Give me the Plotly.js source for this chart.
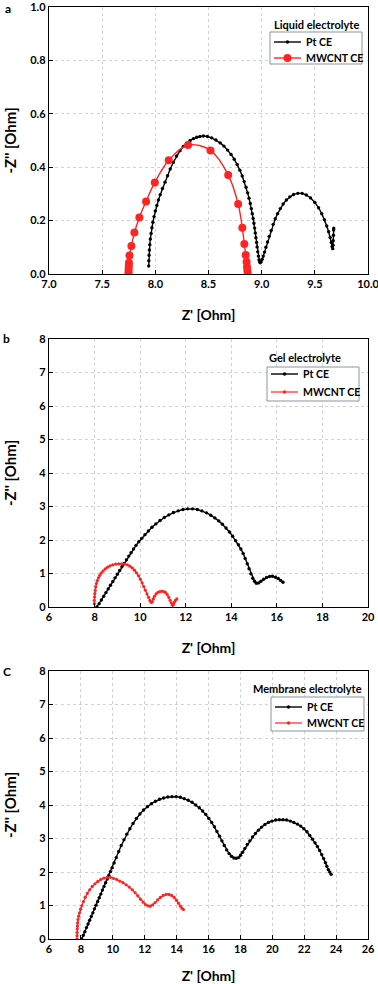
<!DOCTYPE html>
<html>
<head>
<meta charset="utf-8">
<script src="https://cdn.plot.ly/plotly-3.0.1.min.js"></script>
<style>
  html, body {margin: 0; padding: 0; background: white;}
  #chart {width: 378px; height: 984px;}
</style>
</head>
<body>
<div id="chart"></div>
<script>
// (a) liquid electrolyte
const ptLiquidX = [7.938, 7.939, 7.941, 7.944, 7.948, 7.953, 7.960, 7.968, 7.977, 7.988, 8.000, 8.014, 8.029, 8.046, 8.067, 8.091, 8.115, 8.140, 8.169, 8.200, 8.232, 8.264, 8.295, 8.327, 8.358, 8.389, 8.420, 8.452, 8.490, 8.530, 8.570, 8.610, 8.645, 8.680, 8.712, 8.742, 8.770, 8.795, 8.817, 8.836, 8.853, 8.868, 8.881, 8.893, 8.903, 8.912, 8.920, 8.927, 8.934, 8.940, 8.946, 8.952, 8.957, 8.963, 8.969, 8.975, 8.981, 8.987, 8.995, 9.005, 9.015, 9.027, 9.040, 9.055, 9.071, 9.089, 9.108, 9.128, 9.150, 9.175, 9.202, 9.232, 9.265, 9.300, 9.340, 9.380, 9.420, 9.460, 9.500, 9.535, 9.565, 9.590, 9.612, 9.630, 9.644, 9.655, 9.663, 9.668, 9.671, 9.673, 9.675, 9.677, 9.678]
const ptLiquidY = [0.030, 0.050, 0.070, 0.090, 0.110, 0.131, 0.152, 0.173, 0.194, 0.215, 0.236, 0.257, 0.277, 0.297, 0.320, 0.344, 0.368, 0.393, 0.418, 0.442, 0.462, 0.478, 0.490, 0.500, 0.507, 0.512, 0.515, 0.517, 0.515, 0.510, 0.502, 0.491, 0.479, 0.464, 0.448, 0.430, 0.410, 0.389, 0.367, 0.346, 0.325, 0.304, 0.284, 0.264, 0.245, 0.226, 0.208, 0.190, 0.172, 0.154, 0.136, 0.118, 0.101, 0.083, 0.067, 0.053, 0.045, 0.042, 0.046, 0.055, 0.067, 0.082, 0.100, 0.120, 0.141, 0.163, 0.186, 0.207, 0.226, 0.245, 0.262, 0.277, 0.289, 0.298, 0.302, 0.302, 0.296, 0.285, 0.268, 0.248, 0.226, 0.203, 0.180, 0.158, 0.137, 0.118, 0.103, 0.095, 0.108, 0.125, 0.145, 0.165, 0.172]
const cntLiquidX = [7.748, 7.748, 7.749, 7.750, 7.752, 7.757, 7.775, 7.803, 7.850, 7.913, 7.995, 8.126, 8.308, 8.519, 8.685, 8.779, 8.818, 8.837, 8.850, 8.858, 8.862, 8.865, 8.868]
const cntLiquidY = [0.002, 0.009, 0.021, 0.030, 0.042, 0.069, 0.105, 0.155, 0.212, 0.272, 0.343, 0.426, 0.483, 0.463, 0.371, 0.262, 0.173, 0.112, 0.071, 0.046, 0.027, 0.015, 0.004]

// (b) gel electrolyte
const ptGelX = [8.10, 8.20, 8.30, 8.40, 8.50, 8.60, 8.70, 8.80, 8.90, 9.00, 9.10, 9.20, 9.30, 9.40, 9.50, 9.60, 9.71, 9.82, 9.94, 10.07, 10.21, 10.36, 10.52, 10.69, 10.87, 11.06, 11.26, 11.46, 11.67, 11.88, 12.09, 12.30, 12.51, 12.71, 12.91, 13.10, 13.28, 13.45, 13.61, 13.77, 13.92, 14.06, 14.19, 14.31, 14.42, 14.52, 14.61, 14.70, 14.78, 14.86, 14.94, 15.02, 15.10, 15.20, 15.30, 15.42, 15.55, 15.68, 15.81, 15.94, 16.06, 16.17, 16.27]
const ptGelY = [0.00, 0.10, 0.21, 0.32, 0.43, 0.54, 0.65, 0.76, 0.87, 0.98, 1.09, 1.20, 1.30, 1.41, 1.52, 1.62, 1.73, 1.84, 1.95, 2.05, 2.16, 2.27, 2.38, 2.48, 2.58, 2.67, 2.75, 2.82, 2.87, 2.91, 2.93, 2.93, 2.91, 2.87, 2.81, 2.74, 2.66, 2.57, 2.47, 2.36, 2.24, 2.11, 1.98, 1.86, 1.73, 1.60, 1.45, 1.29, 1.14, 0.99, 0.86, 0.77, 0.71, 0.72, 0.77, 0.83, 0.88, 0.91, 0.92, 0.89, 0.85, 0.79, 0.74]
const cntGelX = [7.99, 7.99, 8.00, 8.01, 8.03, 8.05, 8.08, 8.12, 8.17, 8.23, 8.30, 8.38, 8.47, 8.57, 8.68, 8.80, 8.93, 9.06, 9.19, 9.32, 9.44, 9.55, 9.65, 9.75, 9.84, 9.93, 10.01, 10.09, 10.16, 10.23, 10.30, 10.37, 10.43, 10.48, 10.53, 10.58, 10.63, 10.70, 10.78, 10.86, 10.95, 11.04, 11.12, 11.19, 11.26, 11.32, 11.37, 11.42, 11.46, 11.50, 11.55, 11.61]
const cntGelY = [0.10, 0.20, 0.30, 0.40, 0.50, 0.60, 0.70, 0.79, 0.87, 0.95, 1.02, 1.08, 1.14, 1.19, 1.23, 1.26, 1.28, 1.29, 1.29, 1.28, 1.26, 1.22, 1.17, 1.10, 1.02, 0.93, 0.83, 0.72, 0.61, 0.50, 0.39, 0.29, 0.20, 0.14, 0.15, 0.24, 0.32, 0.39, 0.44, 0.46, 0.47, 0.46, 0.43, 0.37, 0.29, 0.20, 0.12, 0.05, 0.07, 0.14, 0.20, 0.24]

// (c) membrane electrolyte
const ptMembX = [8.05, 8.15, 8.25, 8.35, 8.45, 8.55, 8.65, 8.75, 8.85, 8.95, 9.05, 9.15, 9.25, 9.35, 9.45, 9.55, 9.65, 9.75, 9.85, 9.96, 10.08, 10.22, 10.37, 10.53, 10.70, 10.88, 11.07, 11.27, 11.48, 11.70, 11.93, 12.17, 12.42, 12.67, 12.93, 13.19, 13.45, 13.71, 13.97, 14.23, 14.48, 14.73, 14.97, 15.20, 15.42, 15.63, 15.83, 16.02, 16.20, 16.37, 16.53, 16.69, 16.84, 16.99, 17.14, 17.29, 17.44, 17.59, 17.74, 17.88, 18.01, 18.14, 18.28, 18.43, 18.59, 18.76, 18.94, 19.13, 19.33, 19.54, 19.76, 19.98, 20.21, 20.44, 20.67, 20.90, 21.13, 21.35, 21.57, 21.78, 21.98, 22.17, 22.35, 22.52, 22.68, 22.83, 22.97, 23.10, 23.22, 23.33, 23.42, 23.51, 23.60, 23.69]
const ptMembY = [0.00, 0.11, 0.22, 0.34, 0.45, 0.56, 0.67, 0.78, 0.90, 1.01, 1.12, 1.23, 1.34, 1.46, 1.57, 1.68, 1.79, 1.90, 2.01, 2.13, 2.27, 2.43, 2.61, 2.79, 2.96, 3.13, 3.29, 3.45, 3.60, 3.73, 3.85, 3.95, 4.04, 4.11, 4.17, 4.21, 4.24, 4.25, 4.25, 4.23, 4.19, 4.14, 4.08, 4.00, 3.92, 3.82, 3.72, 3.60, 3.48, 3.35, 3.21, 3.07, 2.93, 2.79, 2.66, 2.55, 2.47, 2.42, 2.41, 2.43, 2.50, 2.59, 2.70, 2.82, 2.93, 3.05, 3.15, 3.25, 3.34, 3.42, 3.48, 3.52, 3.55, 3.56, 3.56, 3.55, 3.52, 3.48, 3.43, 3.37, 3.29, 3.20, 3.09, 2.98, 2.87, 2.76, 2.64, 2.52, 2.40, 2.28, 2.17, 2.07, 2.00, 1.93]
const cntMembX = [7.75, 7.76, 7.76, 7.77, 7.78, 7.79, 7.82, 7.86, 7.91, 7.98, 8.06, 8.16, 8.27, 8.40, 8.55, 8.71, 8.88, 9.06, 9.25, 9.44, 9.64, 9.84, 10.04, 10.24, 10.44, 10.64, 10.84, 11.03, 11.22, 11.40, 11.57, 11.74, 11.90, 12.05, 12.20, 12.35, 12.50, 12.65, 12.81, 12.98, 13.16, 13.34, 13.52, 13.69, 13.85, 13.99, 14.12, 14.24, 14.34, 14.43]
const cntMembY = [0.00, 0.10, 0.20, 0.30, 0.39, 0.48, 0.58, 0.68, 0.78, 0.89, 1.00, 1.12, 1.25, 1.36, 1.47, 1.57, 1.65, 1.72, 1.78, 1.82, 1.84, 1.84, 1.81, 1.78, 1.73, 1.68, 1.62, 1.55, 1.47, 1.38, 1.29, 1.19, 1.10, 1.03, 0.99, 0.98, 1.02, 1.09, 1.17, 1.24, 1.30, 1.33, 1.33, 1.30, 1.24, 1.16, 1.07, 0.98, 0.92, 0.88]

const panelLabels = ["a", "b", "C"]
const legendTitles = ["Liquid electrolyte", "Gel electrolyte", "Membrane electrolyte"]
const seriesNames = ["Pt CE", "MWCNT CE"]

const W = 378, H = 984
const FONT = "Lato, 'Open Sans', sans-serif"
const RED = "#ff2424"
const px = x => x / W
const py = y => 1 - y / H

const bold = (size, color = "black") => ({family: FONT, size, color, weight: 700})

const ptTrace = (x, y, n) => ({
  x, y, type: "scatter", mode: "lines+markers", name: seriesNames[0],
  xaxis: n === 1 ? "x" : "x" + n, yaxis: n === 1 ? "y" : "y" + n,
  line: {color: "black", width: 1.4},
  marker: {color: "black", size: 3.4}
})

const cntTrace = (x, y, n, big) => ({
  x, y, type: "scatter", mode: "lines+markers", name: seriesNames[1],
  xaxis: n === 1 ? "x" : "x" + n, yaxis: n === 1 ? "y" : "y" + n,
  line: {color: RED, width: big ? 1.4 : 1.2, shape: big ? "spline" : "linear"},
  marker: {color: RED, size: big ? 8 : 3.2}
})

const data = [
  ptTrace(ptLiquidX, ptLiquidY, 1), cntTrace(cntLiquidX, cntLiquidY, 1, true),
  ptTrace(ptGelX, ptGelY, 2), cntTrace(cntGelX, cntGelY, 2, false),
  ptTrace(ptMembX, ptMembY, 3), cntTrace(cntMembX, cntMembY, 3, false)
]

const axisBase = {
  showline: true, mirror: true, linecolor: "black", linewidth: 1.2,
  ticks: "inside", ticklen: 4, tickcolor: "black", tickwidth: 1,
  showgrid: true, gridcolor: "#ccd3d6", griddash: "dot", gridwidth: 1,
  zeroline: false, tickfont: bold(11), fixedrange: true, ticklabeloverflow: "allow"
}

// panel boxes in pixels: [top, bottom]
const panels = [[7, 274], [339, 607], [671, 939]]
const xDom = [px(49), px(368)]

const xAxis = (range, dtick, fmt, n) => ({
  ...axisBase, domain: xDom, range, dtick, tickformat: fmt,
  anchor: n === 1 ? "y" : "y" + n,
  title: {text: "Z' [Ohm]", font: bold(14), standoff: 20}
})
const yAxis = (range, dtick, fmt, n, standoff) => ({
  ...axisBase, domain: [py(panels[n - 1][1]), py(panels[n - 1][0])], range, dtick, tickformat: fmt,
  anchor: n === 1 ? "x" : "x" + n,
  title: {text: "-Z'' [Ohm]", font: bold(15), standoff}
})

// legend boxes drawn by hand: [left, right, top, bottom, rowPt, rowCnt]
const legendBoxes = [[270, 362, 32, 64, 42, 58], [267, 359, 367, 401, 374, 392], [271, 364, 697, 731, 707, 723]]
const legendTitlePos = [[272, 24], [267, 358], [251, 688]]
const labelPos = [[8, 8], [6, 338], [7, 671]]

const annotations = []
const shapes = []
panelLabels.forEach((t, i) => annotations.push({
  text: t, xref: "paper", yref: "paper", x: px(labelPos[i][0]), y: py(labelPos[i][1]),
  xanchor: "center", yanchor: "middle", showarrow: false, font: bold(12)
}))
legendTitles.forEach((t, i) => annotations.push({
  text: t, xref: "paper", yref: "paper", x: px(legendTitlePos[i][0]), y: py(legendTitlePos[i][1]),
  xanchor: "left", yanchor: "middle", showarrow: false, font: bold(11)
}))

legendBoxes.forEach(([l, r, t, b, y1, y2], i) => {
  shapes.push({type: "rect", xref: "paper", yref: "paper", x0: px(l), x1: px(r), y0: py(b), y1: py(t),
    line: {color: "#8a959b", width: 1}, fillcolor: "white", layer: "above"})
  const rows = [[y1, "black", 3.4, 1.4], [y2, RED, i === 0 ? 8 : 3.4, i === 0 ? 1.4 : 1.2]]
  rows.forEach(([yy, color, size, lw], k) => {
    shapes.push({type: "line", xref: "paper", yref: "paper", x0: px(l + 4), x1: px(l + 31), y0: py(yy), y1: py(yy),
      line: {color, width: lw}, layer: "above"})
    shapes.push({type: "circle", xref: "paper", yref: "paper", xsizemode: "pixel", ysizemode: "pixel",
      xanchor: px(l + 17.5), yanchor: py(yy), x0: -size / 2, x1: size / 2, y0: -size / 2, y1: size / 2,
      fillcolor: color, line: {color, width: 0}, layer: "above"})
    annotations.push({text: seriesNames[k], xref: "paper", yref: "paper", x: px(l + 34), y: py(yy),
      xanchor: "left", yanchor: "middle", showarrow: false, font: bold(10.5)})
  })
})

const layout = {
  width: W, height: H,
  margin: {l: 0, r: 0, t: 0, b: 0},
  paper_bgcolor: "white", plot_bgcolor: "white",
  showlegend: false,
  xaxis: xAxis([7, 10], 0.5, ".1f", 1),
  yaxis: yAxis([0, 1], 0.2, ".1f", 1, 10),
  xaxis2: xAxis([6, 20], 2, "d", 2),
  yaxis2: yAxis([0, 8], 1, "d", 2, 19),
  xaxis3: xAxis([6, 26], 2, "d", 3),
  yaxis3: yAxis([0, 8], 1, "d", 3, 19),
  shapes, annotations
}

Plotly.newPlot("chart", data, layout, {displayModeBar: false, staticPlot: true})
</script>
</body>
</html>
